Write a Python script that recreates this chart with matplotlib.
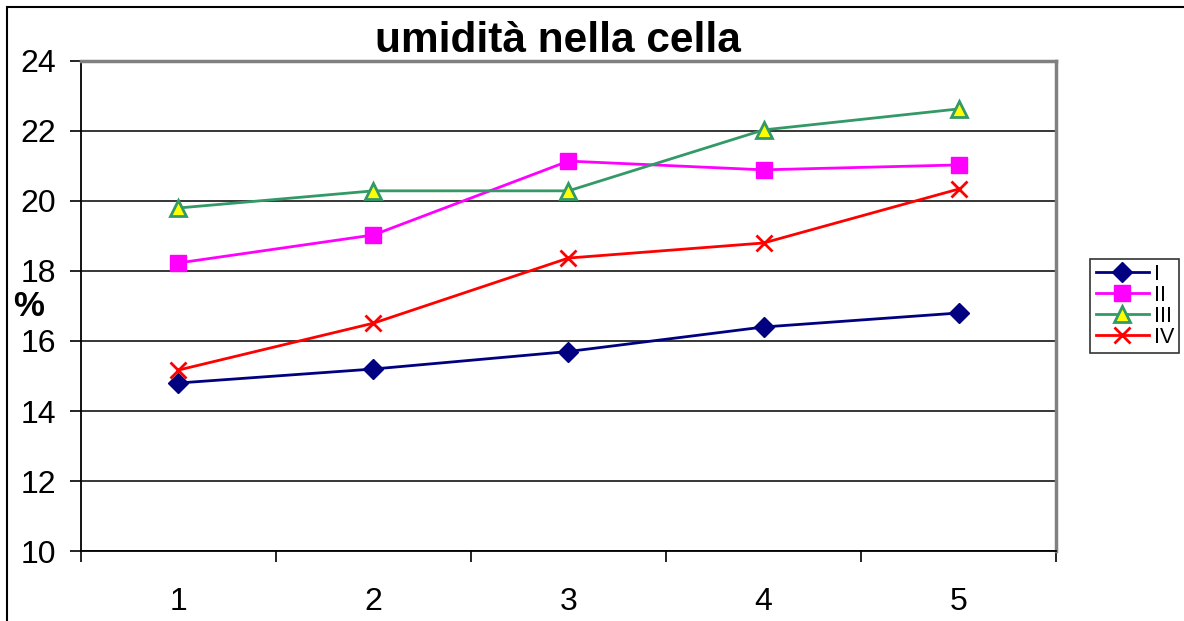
import matplotlib.pyplot as plt
from matplotlib.patches import Rectangle

plt.rcParams['font.family'] = ['Liberation Sans', 'DejaVu Sans']

giorni = [1, 2, 3, 4, 5]
serie_I = [14.8, 15.2, 15.7, 16.4, 16.8]
serie_II = [18.23, 19.03, 21.14, 20.89, 21.03]
serie_III = [19.8, 20.29, 20.29, 22.03, 22.63]
serie_IV = [15.17, 16.51, 18.37, 18.8, 20.34]
nomi = ['I', 'II', 'III', 'IV']

fig = plt.figure(figsize=(11.84, 6.21), dpi=100)
ax = fig.add_axes([0.0684, 0.1127, 0.8235, 0.7891])

# bordo esterno del grafico
fig.patches.append(Rectangle((0.006, -0.1), 1.2, 1.089, transform=fig.transFigure,
                             fill=False, edgecolor='black', linewidth=1.5))

ax.plot(giorni, serie_I, color='#000080', lw=2, marker='D', ms=10.5,
        mfc='#000080', mec='#000080', label=nomi[0])
ax.plot(giorni, serie_II, color='#FF00FF', lw=2, marker='s', ms=12,
        mfc='#FF00FF', mec='#FF00FF', label=nomi[1])
ax.plot(giorni, serie_III, color='#339966', lw=2, marker='^', ms=12,
        mfc='#FFFF00', mec='#339966', mew=2, label=nomi[2])
ax.plot(giorni, serie_IV, color='#FF0000', lw=2, marker='x', ms=12,
        mew=2, label=nomi[3])

ax.set_xlim(0.5, 5.5)
ax.set_ylim(10, 24)
ax.set_yticks(range(10, 25, 2))
ax.set_xticks(giorni)
ax.set_xticks([0.5, 1.5, 2.5, 3.5, 4.5, 5.5], minor=True)
ax.tick_params(axis='x', which='major', length=0, labelsize=23, pad=26)
ax.tick_params(axis='x', which='minor', length=8, width=1.2, direction='out')
ax.tick_params(axis='y', length=8, width=1.2, labelsize=23, pad=10)
ax.grid(axis='y', color='black', lw=1.1)
ax.set_axisbelow(True)

for s in ['top', 'right']:
    ax.spines[s].set_color('#808080')
    ax.spines[s].set_linewidth(2.5)
for s in ['left', 'bottom']:
    ax.spines[s].set_color('black')
    ax.spines[s].set_linewidth(1.3)

ax.set_title('umidità nella cella', fontsize=30.5, fontweight='bold', pad=2, x=0.489)
fig.text(0.024, 0.506, '%', fontsize=25, fontweight='bold', ha='center', va='center')

leg = ax.legend(loc='center left', bbox_to_anchor=(1.035, 0.5), fontsize=15.5,
                frameon=True, fancybox=False, handlelength=2.5,
                borderpad=0.25, labelspacing=0.0, handletextpad=0.2,
                borderaxespad=0)
leg.get_frame().set_edgecolor('black')
leg.get_frame().set_linewidth(1.2)

fig.savefig('out.png', dpi=100)
